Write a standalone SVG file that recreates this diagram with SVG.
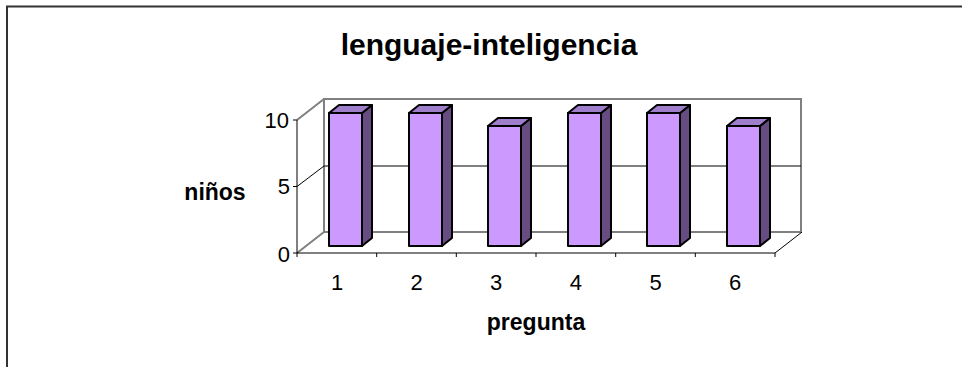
<svg xmlns="http://www.w3.org/2000/svg" width="962" height="367" viewBox="0 0 962 367">
<style>
text{font-family:"Liberation Sans",Arial,sans-serif;fill:#000}
.b{font-weight:bold}
.n{font-size:22px}
.wall{stroke:#808080;stroke-width:2;fill:none}
.ax{stroke:#000;stroke-width:1;fill:none}
.front{fill:#CC99FF;stroke:#000;stroke-width:2;stroke-linejoin:round}
.top{fill:#9F7FCC;stroke:#000;stroke-width:2;stroke-linejoin:round}
.side{fill:#664C80;stroke:#000;stroke-width:2;stroke-linejoin:round}
</style>
<rect width="962" height="367" fill="#fff"/>
<path d="M7 367 V6.5 H962" fill="none" stroke="#333" stroke-width="2"/>
<text x="489" y="55" class="b" font-size="30" text-anchor="middle">lenguaje-inteligencia</text>
<g id="axes">
<rect x="324" y="99" width="477" height="133" class="wall"/>
<path class="wall" d="M297 120 L324 99 M297 253 L324 232"/>
<path class="ax" d="M297 186.5 L324 166 H801 M297 120 V253 H775 L802 232"/>
<path class="ax" d="M293 120 H297 M293 186.5 H297 M293 253 H297 M297 253 V257 M376.7 253 V257 M456.3 253 V257 M536 253 V257 M615.7 253 V257 M695.3 253 V257 M775 253 V257"/>
<text x="289" y="128" class="n" text-anchor="end">10</text>
<text x="290" y="194" class="n" text-anchor="end">5</text>
<text x="290" y="262" class="n" text-anchor="end">0</text>
<text x="337" y="290" class="n" text-anchor="middle">1</text>
<text x="416.5" y="290" class="n" text-anchor="middle">2</text>
<text x="496" y="290" class="n" text-anchor="middle">3</text>
<text x="575.8" y="290" class="n" text-anchor="middle">4</text>
<text x="655.5" y="290" class="n" text-anchor="middle">5</text>
<text x="735" y="290" class="n" text-anchor="middle">6</text>
<text x="215" y="200" class="b" font-size="23" text-anchor="middle">niños</text>
<text x="536" y="330" class="b" font-size="23" text-anchor="middle">pregunta</text>
</g>
<g id="bar1"><polygon class="side" points="362,113 372,105 372,238 362,246"/><polygon class="top" points="329,113 339,105 372,105 362,113"/><rect class="front" x="329" y="113" width="33" height="133"/></g>
<g id="bar2"><polygon class="side" points="442,113 452,105 452,238 442,246"/><polygon class="top" points="409,113 419,105 452,105 442,113"/><rect class="front" x="409" y="113" width="33" height="133"/></g>
<g id="bar3"><polygon class="side" points="521,126 531,118 531,238 521,246"/><polygon class="top" points="488,126 498,118 531,118 521,126"/><rect class="front" x="488" y="126" width="33" height="120"/></g>
<g id="bar4"><polygon class="side" points="601,113 611,105 611,238 601,246"/><polygon class="top" points="568,113 578,105 611,105 601,113"/><rect class="front" x="568" y="113" width="33" height="133"/></g>
<g id="bar5"><polygon class="side" points="680,113 690,105 690,238 680,246"/><polygon class="top" points="647,113 657,105 690,105 680,113"/><rect class="front" x="647" y="113" width="33" height="133"/></g>
<g id="bar6"><polygon class="side" points="760,126 770,118 770,238 760,246"/><polygon class="top" points="727,126 737,118 770,118 760,126"/><rect class="front" x="727" y="126" width="33" height="120"/></g>
</svg>
